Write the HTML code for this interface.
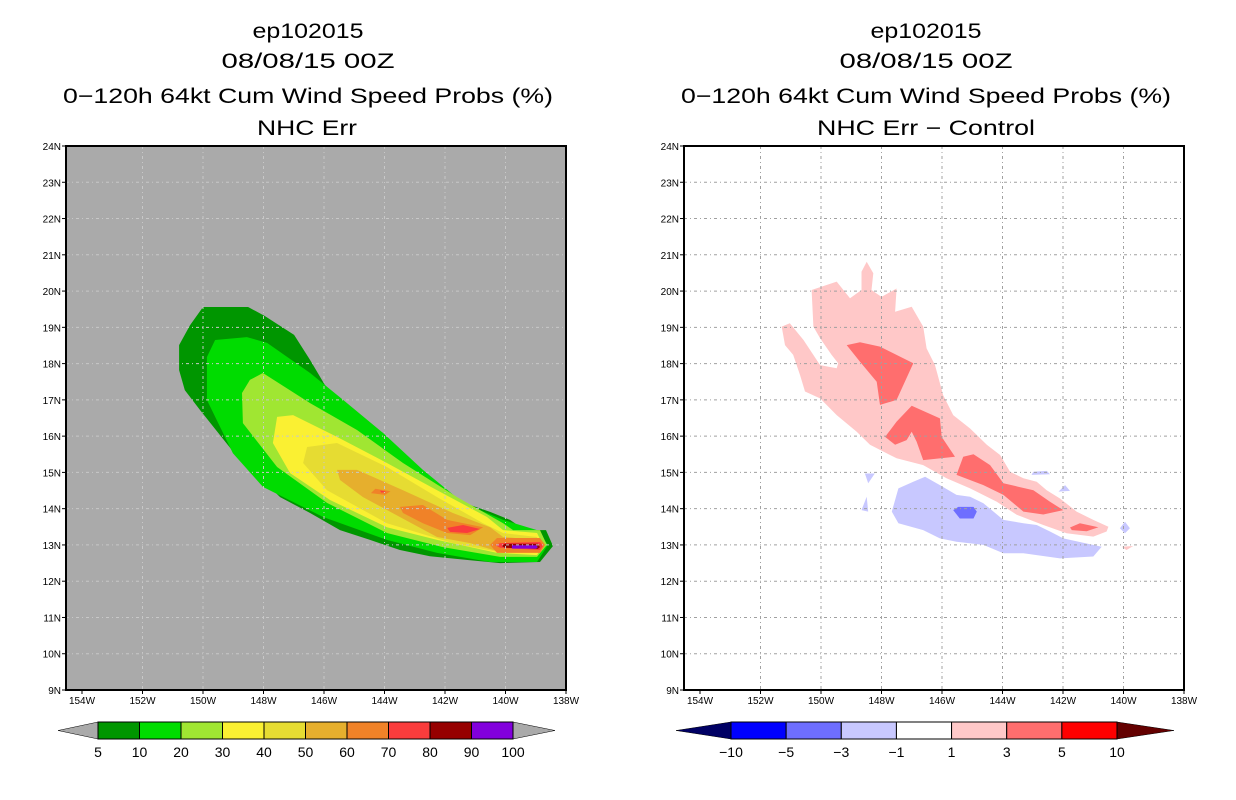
<!DOCTYPE html>
<html><head><meta charset="utf-8"><style>
html,body{margin:0;padding:0;background:#fff;}
svg{display:block;font-family:"Liberation Sans","DejaVu Sans",sans-serif;}
</style></head><body>
<svg id="chart" width="1236" height="800" viewBox="0 0 1236 800" xmlns="http://www.w3.org/2000/svg">
<g font-size="21" fill="#000">
<text x="308" y="38" text-anchor="middle" textLength="111" lengthAdjust="spacingAndGlyphs">ep102015</text>
<text x="308" y="68" text-anchor="middle" textLength="173" lengthAdjust="spacingAndGlyphs">08/08/15 00Z</text>
<text x="308" y="103" text-anchor="middle" textLength="490" lengthAdjust="spacingAndGlyphs">0−120h 64kt Cum Wind Speed Probs (%)</text>
<text x="307" y="135" text-anchor="middle" textLength="100" lengthAdjust="spacingAndGlyphs">NHC Err</text>
</g>
<g font-size="21" fill="#000">
<text x="926" y="38" text-anchor="middle" textLength="111" lengthAdjust="spacingAndGlyphs">ep102015</text>
<text x="926" y="68" text-anchor="middle" textLength="173" lengthAdjust="spacingAndGlyphs">08/08/15 00Z</text>
<text x="926" y="103" text-anchor="middle" textLength="490" lengthAdjust="spacingAndGlyphs">0−120h 64kt Cum Wind Speed Probs (%)</text>
<text x="926" y="135" text-anchor="middle" textLength="218" lengthAdjust="spacingAndGlyphs">NHC Err − Control</text>
</g>
<g id="left"></g>
<g id="right"></g>
<g id="cbl"></g>
<g id="cbr"></g>
</svg>
<script>
// ---- data (lon in degrees W, lat in degrees N) ----
const lonTicks = [154,152,150,148,146,144,142,140,138];
const latTicks = [9,10,11,12,13,14,15,16,17,18,19,20,21,22,23,24];
const probLevels = [5,10,20,30,40,50,60,70,80,90,100];
const probColors = ['#009600','#00dc00','#a0e632','#faf032','#e6dc32','#e6af2d','#f08228','#fa3c3c','#960000','#8200dc'];
const diffLevels = ['−10','−5','−3','−1','1','3','5','10'];
const diffColors = ['#0000ff','#6e6eff','#c8c8ff','#ffffff','#ffc8c8','#ff6e6e','#ff0000'];
const prob5 = [[150.0,19.56],[148.51,19.56],[147.95,19.31],[146.99,18.79],[146.46,18.10],[145.97,17.41],[145.47,17.0],[144.81,16.31],[144.15,15.75],[143.49,15.34],[142.83,14.79],[141.83,14.38],[141.17,14.10],[140.51,13.91],[139.85,13.69],[139.36,13.41],[138.66,13.41],[138.43,12.97],[138.86,12.53],[140.18,12.50],[141.17,12.58],[142.50,12.69],[143.49,12.86],[144.48,13.14],[145.47,13.41],[146.46,13.88],[147.45,14.32],[148.12,14.85],[148.78,15.34],[149.44,16.03],[150.10,16.72],[150.60,17.27],[150.79,17.82],[150.79,18.51],[150.43,19.06]];
const prob10 = [[149.60,18.65],[148.55,18.73],[147.88,18.57],[146.46,17.74],[145.37,17.0],[144.05,16.09],[142.73,15.07],[141.40,14.16],[140.08,13.69],[138.96,13.41],[138.60,13.0],[138.96,12.53],[140.51,12.53],[142.26,12.78],[143.92,13.14],[146.03,13.77],[148.02,14.60],[149.01,15.53],[149.87,17.0],[149.87,18.18]];
const prob20 = [[148.45,17.55],[148.02,17.74],[146.46,16.91],[144.91,16.17],[143.39,15.26],[141.60,14.32],[140.08,13.60],[139.75,13.41],[138.86,13.41],[138.63,13.0],[138.96,12.67],[140.18,12.67],[142.07,12.94],[143.92,13.33],[145.90,14.16],[147.55,15.15],[148.68,16.36],[148.71,17.19]];
const prob30 = [[147.55,16.53],[147.02,16.58],[145.57,15.98],[143.92,15.26],[142.26,14.51],[140.61,13.77],[140.08,13.41],[138.96,13.33],[138.76,13.0],[138.96,12.72],[140.28,12.78],[142.26,13.14],[143.92,13.49],[145.80,14.24],[147.12,14.98],[147.69,15.81]];
const prob40 = [[146.56,15.70],[145.57,15.81],[143.92,15.15],[142.26,14.32],[140.74,13.60],[140.08,13.33],[138.96,13.22],[138.86,12.86],[140.08,12.78],[141.74,13.05],[143.92,13.60],[145.90,14.51],[146.69,15.26]];
const prob50 = [[145.57,15.07],[144.91,15.07],[143.39,14.51],[141.74,13.88],[140.51,13.49],[140.08,13.22],[138.96,13.14],[138.86,12.86],[140.08,12.78],[141.17,13.05],[142.26,13.22],[143.49,13.77],[144.71,14.32],[145.47,14.79]];
const prob60a = [[144.30,14.55],[143.80,14.48],[143.98,14.38],[144.45,14.43]];
const prob60b = [[143.49,14.05],[142.73,14.10],[141.93,13.69],[140.74,13.49],[141.17,13.27],[141.93,13.33],[142.73,13.60],[143.39,13.88]];
const prob60c = [[140.28,13.19],[138.86,13.19],[138.69,13.0],[138.86,12.78],[140.28,12.78],[140.51,13.0]];
const prob70a = [[141.93,13.47],[141.40,13.55],[140.84,13.44],[141.27,13.33],[141.83,13.36]];
const prob70b = [[140.18,13.05],[138.86,13.08],[138.76,12.97],[138.86,12.86],[140.18,12.92],[140.35,13.0]];
const prob70c = [[144.15,14.50],[143.95,14.47],[144.10,14.44]];
const prob80 = [[140.02,13.03],[138.93,13.03],[138.86,12.94],[138.93,12.89],[140.02,12.92],[140.12,12.97]];
const prob90 = [[139.79,12.99],[138.99,12.99],[138.93,12.94],[138.99,12.90],[139.79,12.90]];
const diffPink = [[151.30,19.02],[151.03,19.11],[150.58,18.65],[150.03,17.96],[149.48,17.87],[149.43,18.01],[149.65,18.24],[150.03,18.70],[150.25,19.02],[150.31,20.03],[149.48,20.26],[149.04,19.80],[148.66,20.03],[148.66,20.53],[148.49,20.81],[148.27,20.49],[148.33,20.03],[148.00,19.84],[147.50,20.07],[147.55,19.43],[147.00,19.57],[146.62,19.02],[146.51,18.42],[146.23,17.96],[145.96,17.13],[145.63,16.58],[145.07,16.21],[144.52,15.76],[144.08,15.48],[143.75,15.02],[143.31,14.84],[142.87,14.74],[142.54,14.51],[142.10,14.28],[141.55,13.92],[141.00,13.69],[140.50,13.50],[140.56,13.37],[141.00,13.23],[141.88,13.32],[142.65,13.55],[143.53,13.83],[144.19,14.19],[145.07,14.56],[145.85,14.84],[146.62,15.20],[147.50,15.39],[148.38,15.76],[148.82,16.12],[149.48,16.58],[150.03,17.04],[150.53,17.23],[150.69,17.68],[150.92,18.24],[151.19,18.51]];
const diffPinkSmall = [[140.06,12.95],[139.68,12.97],[139.90,12.86]];
const diffRedA = [[149.15,18.51],[148.71,18.59],[148.05,18.47],[146.95,18.01],[147.50,17.00],[148.05,16.86],[148.16,17.50],[148.71,18.05]];
const diffRedB = [[147.88,15.98],[147.50,16.40],[147.00,16.84],[146.07,16.49],[146.01,15.98],[145.57,15.43],[146.62,15.34],[146.84,15.85],[147.00,16.12],[147.17,15.89],[147.55,15.76]];
const diffRedC = [[145.52,14.93],[145.30,15.43],[144.96,15.50],[144.41,15.20],[143.97,14.70],[142.98,14.51],[142.43,14.19],[141.99,13.96],[142.65,13.84],[143.31,13.92],[143.97,14.38],[144.63,14.65]];
const diffRedD = [[141.77,13.48],[141.44,13.60],[140.83,13.49],[141.22,13.38],[141.71,13.41]];
const diffBlueBig = [[147.66,13.92],[147.44,14.56],[146.95,14.74],[146.56,14.88],[146.07,14.65],[145.52,14.38],[145.07,14.33],[144.63,14.15],[143.97,13.69],[143.31,13.60],[142.87,13.55],[142.43,13.37],[141.99,13.18],[141.22,13.04],[140.72,12.95],[141.00,12.68],[142.10,12.63],[143.31,12.77],[143.97,12.77],[144.63,13.00],[145.52,13.09],[146.07,13.18],[146.62,13.41],[147.44,13.60]];
const diffBlueS1 = [[148.55,14.97],[148.22,14.97],[148.44,14.70]];
const diffBlueS2 = [[148.49,14.33],[148.44,13.92],[148.66,13.96]];
const diffBlueS3 = [[142.98,15.02],[142.54,15.04],[142.43,14.95],[143.04,14.93]];
const diffBlueS4 = [[141.93,14.65],[141.77,14.49],[142.15,14.47]];
const diffBlueS5 = [[139.95,13.64],[139.79,13.46],[139.95,13.32],[140.12,13.46]];
const diffMidBlue = [[145.63,13.96],[145.46,14.05],[144.96,14.05],[144.85,13.92],[144.96,13.73],[145.41,13.73]];

const NS='http://www.w3.org/2000/svg';
function mk(tag, attrs, parent){const e=document.createElementNS(NS,tag);for(const k in attrs)e.setAttribute(k,attrs[k]);parent.appendChild(e);return e;}
const W=500,H=544,TOP=146,lonE=138,lonW=138+W/30.25,latS=9,latN=24;
function xs(x0){return w=>x0+W-(w-lonE)/(lonW-lonE)*W;}
function ys(lat){return TOP+H-(lat-latS)/(latN-latS)*H;}

function panel(g,x0,bg,gridCol,polys){
  const x=xs(x0);
  const bgr=mk('rect',{x:x0,y:TOP,width:W,height:H,fill:bg},g);
  
  
  polys.forEach(p=>{
    const pg=mk('polygon',{points:p.pts.map(q=>x(q[0]).toFixed(1)+','+ys(q[1]).toFixed(1)).join(' '),fill:p.c},g);
    
    
  });
  lonTicks.forEach(t=>{
    if(t===154||t===138)return;
    const l=mk('line',{x1:x(t),x2:x(t),y1:TOP,y2:TOP+H,stroke:gridCol,'stroke-width':1,'stroke-dasharray':'3,3,1,3'},g);
    
    
  });
  latTicks.forEach(t=>{
    if(t===9||t===24)return;
    const l=mk('line',{x1:x0,x2:x0+W,y1:ys(t),y2:ys(t),stroke:gridCol,'stroke-width':1,'stroke-dasharray':'3,3,1,3'},g);
    
    
  });
  const fr=mk('rect',{x:x0,y:TOP,width:W,height:H,fill:'none',stroke:'#000','stroke-width':2},g);
  
  
  lonTicks.forEach(t=>{
    const tk=mk('line',{x1:x(t),x2:x(t),y1:TOP+H,y2:TOP+H+4,stroke:'#000','stroke-width':1},g);
    
    
    const tx=mk('text',{x:x(t),y:TOP+H+14,'text-anchor':'middle','font-size':10},g);
    tx.textContent=t+'W';
    
    
  });
  latTicks.forEach(t=>{
    const tk=mk('line',{x1:x0-4,x2:x0,y1:ys(t),y2:ys(t),stroke:'#000','stroke-width':1},g);
    
    
    const tx=mk('text',{x:x0-5,y:ys(t)+4,'text-anchor':'end','font-size':10},g);
    tx.textContent=t+'N';
    
    
  });
}
const pc=probColors;
panel(document.getElementById('left'),66,'#aaaaaa','#c8c8c8',[
 {pts:prob5,c:pc[0],n:'prob-5-contour'},{pts:prob10,c:pc[1],n:'prob-10-contour'},{pts:prob20,c:pc[2],n:'prob-20-contour'},
 {pts:prob30,c:pc[3],n:'prob-30-contour'},{pts:prob40,c:pc[4],n:'prob-40-contour'},{pts:prob50,c:pc[5],n:'prob-50-contour'},
 {pts:prob60a,c:pc[6],n:'prob-60-contour'},{pts:prob60b,c:pc[6],n:'prob-60-contour'},{pts:prob60c,c:pc[6],n:'prob-60-contour'},
 {pts:prob70a,c:pc[7],n:'prob-70-contour'},{pts:prob70b,c:pc[7],n:'prob-70-contour'},{pts:prob70c,c:pc[7],n:'prob-70-contour'},
 {pts:prob80,c:pc[8],n:'prob-80-contour'},{pts:prob90,c:pc[9],n:'prob-90-contour'}]);
const dc=diffColors;
panel(document.getElementById('right'),684,'#ffffff','#a0a0a0',[
 {pts:diffPink,c:dc[4],n:'diff-1-contour'},{pts:diffPinkSmall,c:dc[4],n:'diff-1-contour'},
 {pts:diffRedA,c:dc[5],n:'diff-3-contour'},{pts:diffRedB,c:dc[5],n:'diff-3-contour'},{pts:diffRedC,c:dc[5],n:'diff-3-contour'},{pts:diffRedD,c:dc[5],n:'diff-3-contour'},
 {pts:diffBlueBig,c:dc[2],n:'diff-neg1-contour'},{pts:diffBlueS1,c:dc[2],n:'diff-neg1-contour'},{pts:diffBlueS2,c:dc[2],n:'diff-neg1-contour'},
 {pts:diffBlueS3,c:dc[2],n:'diff-neg1-contour'},{pts:diffBlueS4,c:dc[2],n:'diff-neg1-contour'},{pts:diffBlueS5,c:dc[2],n:'diff-neg1-contour'},
 {pts:diffMidBlue,c:dc[1],n:'diff-neg3-contour'}]);

function colorbar(g,x0,x1,tipL,tipR,cols,labels,lc,rc){
  const y0=722,y1=739,ym=(y0+y1)/2,n=cols.length,bw=(x1-x0)/n;
  const tl=mk('polygon',{points:`${tipL},${ym} ${x0},${y0} ${x0},${y1}`,fill:lc,stroke:'#000','stroke-width':0.5},g);
  
  
  const tr=mk('polygon',{points:`${tipR},${ym} ${x1},${y0} ${x1},${y1}`,fill:rc,stroke:'#000','stroke-width':0.5},g);
  
  
  cols.forEach((c,i)=>{
    const r=mk('rect',{x:x0+i*bw,y:y0,width:bw,height:y1-y0,fill:c,stroke:'#000','stroke-width':1},g);
    
    
  });
  labels.forEach((l,i)=>{
    const t=mk('text',{x:x0+i*bw,y:757,'text-anchor':'middle','font-size':14},g);
    t.textContent=l;
    
    
  });
}
colorbar(document.getElementById('cbl'),98,513,58,555,probColors,probLevels,'#aaaaaa','#aaaaaa');
colorbar(document.getElementById('cbr'),731,1117,676,1174,diffColors,diffLevels,'#000064','#640000');
</script>
</body></html>
